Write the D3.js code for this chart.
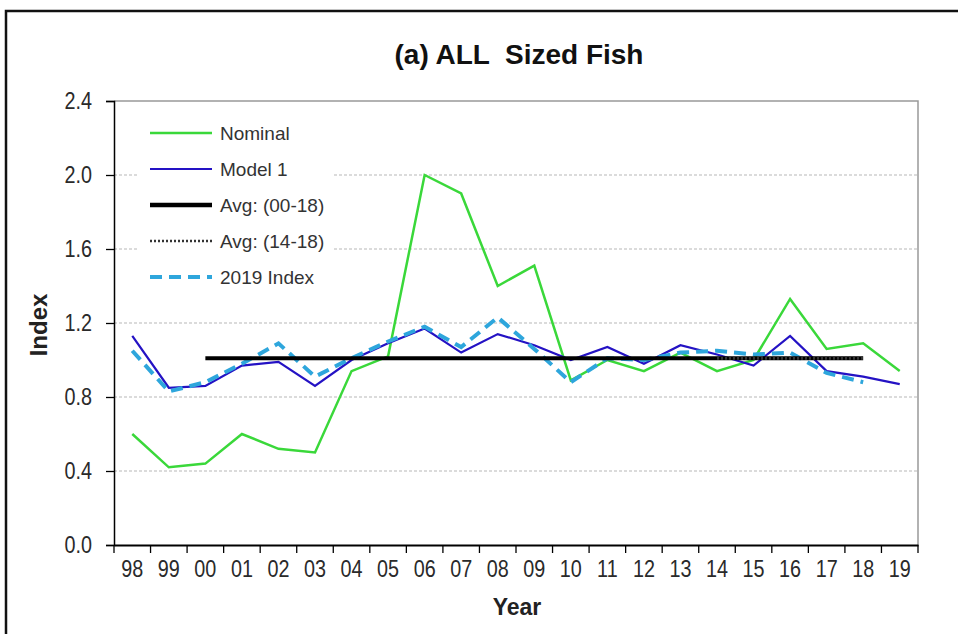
<!DOCTYPE html>
<html>
<head>
<meta charset="utf-8">
<script src="https://cdn.jsdelivr.net/npm/d3@7"></script>
<style>
  body { margin: 0; background: #fff; }
  text { font-family: "Liberation Sans", Arial, sans-serif; }
</style>
</head>
<body>
<svg id="chart"></svg>
<script>
var years = ["98","99","00","01","02","03","04","05","06","07","08","09","10","11","12","13","14","15","16","17","18","19"];
var nominal = [0.60,0.42,0.44,0.60,0.52,0.50,0.94,1.02,2.00,1.90,1.40,1.51,0.89,1.00,0.94,1.04,0.94,1.00,1.33,1.06,1.09,0.94];
var model1  = [1.13,0.85,0.86,0.97,0.99,0.86,1.00,1.09,1.17,1.04,1.14,1.08,1.00,1.07,0.98,1.08,1.03,0.97,1.13,0.94,0.91,0.87];
var index2019 = [1.05,0.83,0.88,0.98,1.09,0.91,1.01,1.10,1.18,1.07,1.23,1.06,0.88,1.01,1.00,1.04,1.05,1.03,1.04,0.93,0.88];
var avg0018 = {from: "00", to: "18", value: 1.01};
var avg1418 = {from: "14", to: "18", value: 1.01};
var yTicks = [0.0,0.4,0.8,1.2,1.6,2.0,2.4];

var W = 958, H = 634;
var margin = {top: 101, left: 114},
    width = 918 - margin.left,
    height = 545 - margin.top;

var root = d3.select("#chart").attr("width", W).attr("height", H);

// outer frame
root.append("rect")
  .attr("x", 6).attr("y", 11)
  .attr("width", 1000).attr("height", 700)
  .attr("fill", "none").attr("stroke", "#111").attr("stroke-width", 2.5);

var svg = root.append("g")
  .attr("transform", "translate(" + margin.left + "," + margin.top + ")");

var x = d3.scaleBand().domain(years).range([0, width]);
var y = d3.scaleLinear().domain([0, 2.4]).range([height, 0]);
var cx = d => x(d) + x.bandwidth() / 2;

// grid
svg.selectAll(".grid")
  .data(yTicks.filter(d => d > 0 && d < 2.4))
  .enter().append("line")
    .attr("x1", 0).attr("x2", width)
    .attr("y1", d => y(d)).attr("y2", d => y(d))
    .attr("stroke", "#b8b8b8").attr("stroke-width", 1.2)
    .attr("stroke-dasharray", "3,2");

// top + right border of plot
svg.append("path")
  .attr("d", "M0," + y(2.4) + "H" + width + "V" + height)
  .attr("fill", "none").attr("stroke", "#999").attr("stroke-width", 1.5);

// legend background
svg.append("rect")
  .attr("x", 24).attr("y", 14).attr("width", 196).attr("height", 180)
  .attr("fill", "#fff");

var line = d3.line().x((d, i) => cx(years[i])).y(d => y(d));

svg.append("path").datum(nominal)
  .attr("d", line).attr("fill", "none")
  .attr("stroke", "#3ad83a").attr("stroke-width", 2.5);

svg.append("path").datum(model1)
  .attr("d", line).attr("fill", "none")
  .attr("stroke", "#2412c4").attr("stroke-width", 2.2);

svg.append("path").datum(index2019)
  .attr("d", line).attr("fill", "none")
  .attr("stroke", "#2ea6dc").attr("stroke-width", 4)
  .attr("stroke-dasharray", "12,7");

svg.append("line")
  .attr("x1", cx(avg0018.from)).attr("x2", cx(avg0018.to))
  .attr("y1", y(avg0018.value)).attr("y2", y(avg0018.value))
  .attr("stroke", "#000").attr("stroke-width", 4);

svg.append("line")
  .attr("x1", cx(avg1418.from)).attr("x2", cx(avg1418.to))
  .attr("y1", y(avg1418.value)).attr("y2", y(avg1418.value))
  .attr("stroke", "#333").attr("stroke-width", 3)
  .attr("stroke-dasharray", "2,2");

// axes (narrow-looking labels: squeeze horizontally)
var sx = 0.86;
var yAxis = svg.append("g")
  .call(d3.axisLeft(y).tickValues(yTicks).tickFormat(d3.format(".1f")).tickSize(8));
yAxis.select(".domain").attr("stroke-width", 1.5);
yAxis.selectAll(".tick line").attr("stroke-width", 1.3);
yAxis.selectAll("text")
  .attr("x", -22 / sx)
  .attr("transform", "scale(" + sx + ",1)")
  .attr("font-size", 23).attr("fill", "#2a2a2a");

var xAxis = svg.append("g")
  .attr("transform", "translate(0," + height + ")")
  .call(d3.axisBottom(x).tickSize(0));
xAxis.select(".domain").attr("stroke-width", 2);
xAxis.selectAll("text")
  .attr("y", 16)
  .attr("transform", "scale(" + sx + ",1)")
  .attr("font-size", 23).attr("fill", "#2a2a2a");

// x tick marks at band edges
svg.selectAll(".xtick")
  .data(years.concat(["end"]))
  .enter().append("line")
    .attr("x1", (d, i) => i * x.step()).attr("x2", (d, i) => i * x.step())
    .attr("y1", height).attr("y2", height + 8)
    .attr("stroke", "#000").attr("stroke-width", 1.3);

// legend
var legend = [
  {label: "Nominal", color: "#3ad83a", w: 2.5, dash: null},
  {label: "Model 1", color: "#2412c4", w: 2.2, dash: null},
  {label: "Avg: (00-18)", color: "#000", w: 4.5, dash: null},
  {label: "Avg: (14-18)", color: "#333", w: 2.5, dash: "2,2"},
  {label: "2019 Index", color: "#2ea6dc", w: 4, dash: "12,7"}
];
var lg = svg.selectAll(".lg").data(legend).enter().append("g")
  .attr("transform", (d, i) => "translate(36," + (32 + i * 36) + ")");
lg.append("line")
  .attr("x1", 0).attr("x2", 62)
  .attr("stroke", d => d.color).attr("stroke-width", d => d.w)
  .attr("stroke-dasharray", d => d.dash);
lg.append("text")
  .attr("x", 70).attr("dy", "0.36em")
  .attr("font-size", 19).attr("fill", "#333")
  .text(d => d.label);

// titles
root.append("text")
  .attr("x", 519).attr("y", 64)
  .attr("text-anchor", "middle")
  .attr("xml:space", "preserve")
  .attr("font-size", 28).attr("font-weight", "bold").attr("fill", "#111")
  .text("(a) ALL  Sized Fish");

root.append("text")
  .attr("transform", "translate(47," + 325 + ") rotate(-90)")
  .attr("text-anchor", "middle")
  .attr("font-size", 24).attr("font-weight", "bold").attr("fill", "#222")
  .text("Index");

root.append("text")
  .attr("x", 517).attr("y", 615)
  .attr("text-anchor", "middle")
  .attr("font-size", 23).attr("font-weight", "bold").attr("fill", "#222")
  .text("Year");
</script>
</body>
</html>
